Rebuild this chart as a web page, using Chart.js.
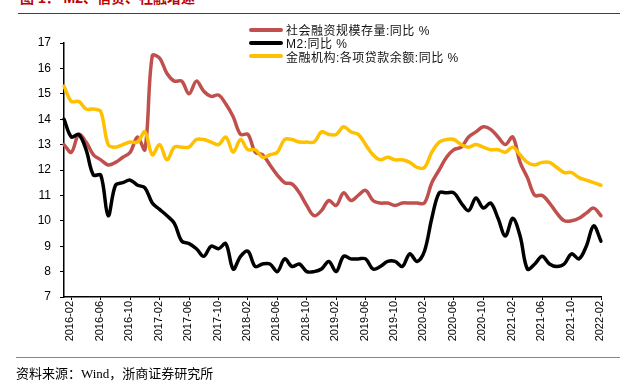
<!DOCTYPE html>
<html><head><meta charset="utf-8">
<script src="https://cdn.jsdelivr.net/npm/chart.js@4"></script>
<style>
html,body{margin:0;padding:0;background:#fff;}
body{width:634px;height:390px;position:relative;overflow:hidden;font-family:"Liberation Sans","Noto Sans CJK SC",sans-serif;}
#title{position:absolute;left:20px;top:-9px;font-size:14px;line-height:14px;font-weight:bold;color:#C00000;font-family:"Liberation Sans","Noto Sans CJK SC";white-space:nowrap;}
#topline{position:absolute;left:18px;top:13px;width:602px;height:0;border-top:1.5px solid #404040;}
#botline{position:absolute;left:16px;top:357px;width:604px;height:0;border-top:1px solid #888;}
#source{position:absolute;left:16px;top:365px;font-size:13px;line-height:17px;font-family:"Liberation Serif","Noto Sans CJK SC",serif;color:#000;white-space:nowrap;}
#wrap{position:absolute;left:0;top:0;width:634px;height:390px;}
#legend{position:absolute;left:249px;top:23px;font-size:12px;color:#111;letter-spacing:0.5px;font-family:"Liberation Sans","Noto Sans CJK SC";}
.row{display:flex;align-items:center;height:13.3px;white-space:nowrap;}
.sw{width:34px;height:4px;border-radius:2px;margin-right:3px;}
</style></head>
<body>
<div id="title">图 1： M2、信贷、社融增速</div>
<div id="topline"></div>
<div id="wrap"><canvas id="c" width="634" height="390"></canvas></div>
<div id="legend"></div>
<div id="botline"></div>
<div id="source">资料来源：Wind，浙商证券研究所</div>
<script>
const months = [
"2016-01","2016-02","2016-03","2016-04","2016-05","2016-06","2016-07","2016-08","2016-09","2016-10","2016-11","2016-12",
"2017-01","2017-02","2017-03","2017-04","2017-05","2017-06","2017-07","2017-08","2017-09","2017-10","2017-11","2017-12",
"2018-01","2018-02","2018-03","2018-04","2018-05","2018-06","2018-07","2018-08","2018-09","2018-10","2018-11","2018-12",
"2019-01","2019-02","2019-03","2019-04","2019-05","2019-06","2019-07","2019-08","2019-09","2019-10","2019-11","2019-12",
"2020-01","2020-02","2020-03","2020-04","2020-05","2020-06","2020-07","2020-08","2020-09","2020-10","2020-11","2020-12",
"2021-01","2021-02","2021-03","2021-04","2021-05","2021-06","2021-07","2021-08","2021-09","2021-10","2021-11","2021-12",
"2022-01","2022-02"];
const tsf = [
13.0,12.7,13.4,13.1,12.6,12.4,12.2,12.3,12.5,12.7,13.3,12.8,
16.5,16.4,15.8,15.5,15.5,15.0,15.5,15.1,14.9,14.95,14.6,14.1,
13.4,13.4,12.7,12.6,12.2,11.8,11.5,11.45,11.1,10.6,10.2,10.4,
10.8,10.6,11.1,10.8,11.0,11.2,10.8,10.7,10.7,10.6,10.7,10.7,
10.7,10.7,11.5,12.0,12.5,12.8,12.9,13.3,13.5,13.7,13.6,13.3,
13.0,13.3,12.3,11.7,11.0,11.0,10.7,10.3,10.0,10.0,10.1,10.3,
10.5,10.2];
const m2 = [
14.0,13.3,13.4,12.8,11.8,11.8,10.2,11.4,11.5,11.6,11.4,11.3,
10.7,10.45,10.2,9.9,9.2,9.1,8.9,8.6,9.0,8.9,9.1,8.1,
8.6,8.8,8.2,8.3,8.3,8.0,8.5,8.2,8.3,8.0,8.0,8.1,
8.4,8.0,8.6,8.5,8.5,8.5,8.1,8.2,8.4,8.4,8.2,8.7,
8.4,8.8,10.1,11.1,11.1,11.1,10.7,10.4,10.9,10.5,10.7,10.1,
9.4,10.1,9.4,8.1,8.3,8.6,8.3,8.2,8.3,8.7,8.5,9.0,
9.8,9.2];
const loans = [
15.3,14.7,14.7,14.4,14.4,14.3,13.0,12.9,13.0,13.1,13.1,13.5,
12.6,13.0,12.4,12.9,12.9,12.9,13.2,13.2,13.1,13.0,13.3,12.7,
13.2,12.8,12.8,12.5,12.6,12.7,13.2,13.2,13.1,13.1,13.1,13.5,
13.4,13.4,13.7,13.5,13.4,13.0,12.6,12.4,12.5,12.4,12.4,12.3,
12.1,12.1,12.7,13.1,13.2,13.2,13.0,12.9,13.0,12.9,12.8,12.8,
12.7,12.9,12.6,12.3,12.2,12.3,12.3,12.1,11.9,11.9,11.7,11.6,
11.5,11.4];
const seriesNames = ["社会融资规模存量:同比 %","M2:同比 %","金融机构:各项贷款余额:同比 %"];
const seriesColors = ["#C0504D","#000000","#FFC000"];
const labelMonths = ["02","06","10"];

const chart = new Chart(document.getElementById('c'), {
  type:'line',
  data:{labels:months, datasets:[
    {label:seriesNames[0], data:tsf, borderColor:seriesColors[0], order:3},
    {label:seriesNames[1], data:m2, borderColor:seriesColors[1], order:2},
    {label:seriesNames[2], data:loans, borderColor:seriesColors[2], order:1}
  ]},
  options:{
    responsive:false, animation:false,
    layout:{padding:{left:14,top:43,right:33,bottom:43}},
    elements:{line:{borderWidth:3.5,tension:0.35,borderCapStyle:'round',borderJoinStyle:'round',fill:false},point:{radius:0,hoverRadius:0}},
    plugins:{legend:{display:false},tooltip:{enabled:false}},
    scales:{
      x:{offset:false,
        grid:{display:true,drawOnChartArea:false,drawTicks:true,tickLength:3,color:'#000'},
        border:{color:'#000',width:1.5},
        ticks:{autoSkip:false,maxRotation:90,minRotation:90,padding:1,labelOffset:-1,color:'#000',font:{family:'Liberation Sans',size:11},
          callback:function(v,i){const l=months[i];return labelMonths.includes(l.slice(5))?l:null;}},
        afterFit:function(s){s.height=50;}},
      y:{min:7,max:17,
        ticks:{stepSize:1,color:'#000',padding:9,font:{family:'Liberation Sans',size:12}},
        grid:{drawOnChartArea:false,drawTicks:true,tickLength:4,color:'#000'},
        border:{color:'#000',width:1.5},
        afterFit:function(s){s.width=50;}}
    }
  }
});
const lg = document.getElementById('legend');
chart.data.datasets.forEach(ds=>{
  const r=document.createElement('div');r.className='row';
  const sw=document.createElement('span');sw.className='sw';sw.style.background=ds.borderColor;
  const t=document.createElement('span');t.textContent=ds.label;
  r.appendChild(sw);r.appendChild(t);lg.appendChild(r);
});
</script>
</body></html>
